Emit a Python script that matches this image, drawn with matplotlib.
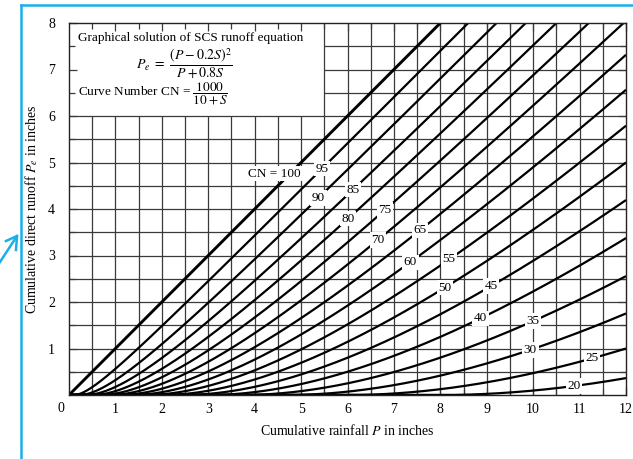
import numpy as np
import matplotlib
matplotlib.use("Agg")
import matplotlib.pyplot as plt

plt.rcParams['font.family'] = ['Liberation Serif', 'DejaVu Serif']
plt.rcParams['mathtext.fontset'] = 'stix'

# curve numbers drawn on the chart
cn_values = [100, 95, 90, 85, 80, 75, 70, 65, 60, 55, 50, 45, 40, 35, 30, 25, 20]
# rainfall where each curve label sits
label_p = [4.76, 5.45, 5.37, 6.12, 6.01, 6.81, 6.66, 7.56, 7.35, 8.19, 8.10,
           9.09, 8.86, 10.0, 9.94, 11.27, 10.88]
x_ticks = [1, 2, 3, 4, 5, 6, 7, 8, 9, 10, 11, 12]
y_ticks = [1, 2, 3, 4, 5, 6, 7, 8]


def runoff(p, cn):
    # SCS runoff equation as printed on the chart
    s = 1000.0 / cn - 10.0
    ia = 0.2 * s
    p = np.asarray(p, dtype=float)
    return np.where(p > ia, (p - ia) ** 2 / (p + 0.8 * s), 0.0)


fig = plt.figure(figsize=(6.33, 4.59), dpi=100)
ax = fig.add_axes([69 / 633, 1 - 395 / 459, 557 / 633, 372 / 459])
ax.set_xlim(0, 12)
ax.set_ylim(0, 8)

# grid, every half inch, left open where the text box sits
grid_col = '#3a3a3a'
for gx in np.arange(0.5, 12, 0.5):
    top = 8 if gx >= 5.5 else 6
    ax.vlines(gx, 0, top, color=grid_col, lw=0.9, zorder=1)
for gy in np.arange(0.5, 8, 0.5):
    left = 0 if gy <= 6 else 5.5
    ax.hlines(gy, left, 12, color=grid_col, lw=0.9, zorder=1)

p = np.linspace(0, 12, 1200)
for cn, lp in zip(cn_values, label_p):
    lw = 2.1 if cn == 100 else 1.6
    ax.plot(p, runoff(p, cn), color='black', lw=lw, zorder=2,
            solid_capstyle='butt')
    ly = float(runoff(lp, cn))
    if cn == 100:
        ax.text(lp + 0.24, ly, 'CN = 100', ha='right', va='center', fontsize=9.5,
                zorder=3, bbox=dict(facecolor='white', edgecolor='none', pad=1.2))
    else:
        ax.text(lp, ly, str(cn), ha='center', va='center', fontsize=9.5, zorder=3,
                bbox=dict(facecolor='white', edgecolor='none', pad=1.2))

# text box in the upper left corner
ax.text(0.2, 7.68, 'Graphical solution of SCS runoff equation', fontsize=9.5,
        ha='left', va='center', zorder=4)
ax.text(1.45, 7.13, r'$P_e\ =\ \dfrac{(P - 0.2S)^2}{P + 0.8S}$', fontsize=10,
        ha='left', va='center', zorder=4)
ax.text(0.2, 6.5, r'Curve Number CN = $\dfrac{1000}{10 + S}$', fontsize=9.5,
        ha='left', va='center', zorder=4)

ax.set_xticks(x_ticks)
ax.set_yticks(y_ticks)
ax.set_xticks(np.arange(0.5, 12, 0.5), minor=True)
ax.set_yticks(np.arange(0.5, 8, 0.5), minor=True)
ax.tick_params(which='both', direction='in', top=True, right=True,
               width=0.9, color=grid_col)
ax.tick_params(which='major', length=6, labelsize=10)
ax.tick_params(which='minor', length=4)
ax.tick_params(axis='y', pad=10)
ax.tick_params(axis='x', pad=6)
ax.text(-0.18, -0.3, '0', fontsize=10, ha='center', va='center')

for sp in ax.spines.values():
    sp.set_linewidth(1.0)
    sp.set_color('#222222')

ax.set_xlabel('Cumulative rainfall $P$ in inches', fontsize=10, labelpad=5)
ax.set_ylabel('Cumulative direct runoff $P_e$ in inches', fontsize=10)
ax.yaxis.set_label_coords(-29 / 557, 0.5)

# cyan screenshot frame and arrow
cyan = '#1aaeea'
fig.add_artist(plt.Line2D([21 / 633, 1], [1 - 5 / 459, 1 - 5 / 459],
                          color=cyan, lw=1.8, transform=fig.transFigure))
fig.add_artist(plt.Line2D([21 / 633, 21 / 633], [0, 1 - 5 / 459],
                          color=cyan, lw=1.8, transform=fig.transFigure))
fig.add_artist(plt.Line2D([0, 17 / 633], [1 - 262 / 459, 1 - 236 / 459],
                          color=cyan, lw=1.8, transform=fig.transFigure))
fig.add_artist(plt.Line2D([6 / 633, 17 / 633, 16 / 633],
                          [1 - 241 / 459, 1 - 236 / 459, 1 - 250 / 459],
                          color=cyan, lw=1.8, transform=fig.transFigure))

fig.savefig('out.png', dpi=100)
